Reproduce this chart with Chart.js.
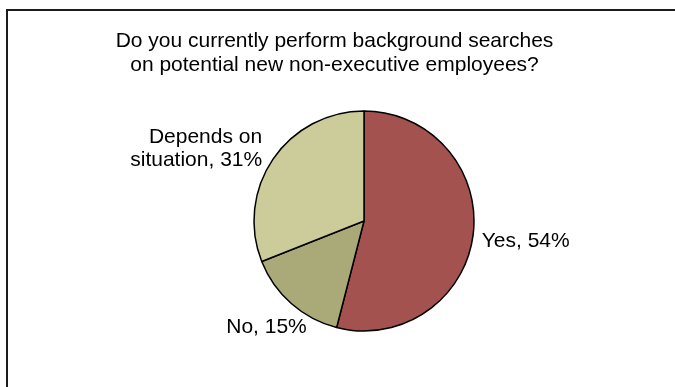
<!DOCTYPE html>
<html>
<head>
<meta charset="utf-8">
<script src="https://cdn.jsdelivr.net/npm/chart.js@4/dist/chart.umd.min.js"></script>
<style>
  html, body { margin: 0; padding: 0; background: #fff; overflow: hidden; }
  #wrap { position: relative; width: 675px; height: 387px; }
  #frame { position: absolute; left: 6px; top: 9px; width: 720px; height: 420px;
           border-top: 2px solid #1c1c1c; border-left: 2px solid #1c1c1c; }
  canvas { position: absolute; left: 0; top: 0; }
</style>
</head>
<body>
<div id="wrap">
  <div id="frame"></div>
  <canvas id="pie" width="675" height="387"></canvas>
</div>
<script>
// data
var titleLines = ['Do you currently perform background searches', 'on potential new non-executive employees?']
var categories = ['Yes', 'No', 'Depends on situation']
var shares = [54, 15, 31]
var labelLines = [['Yes, 54%'], ['No, 15%'], ['Depends on', 'situation, 31%']]
var sliceColors = ['#A3524F', '#AAAA78', '#CCCC9A']

var FONT = '21px "Liberation Sans", Arial, sans-serif'

/* titulo y etiquetas de datos al estilo excel */
var labelPlugin = {
    id: 'excelLabels',
    afterDraw: function(chart, args, opts){
        var ctx = chart.ctx
        ctx.save()
        ctx.font = FONT
        ctx.fillStyle = '#000'
        ctx.textBaseline = 'alphabetic'

        // titulo
        ctx.textAlign = 'center'
        titleLines.forEach(function(t, i){
            ctx.fillText(t, opts.titleX, opts.titleBase + i * 24)
        })

        // etiquetas fuera del pastel
        var meta = chart.getDatasetMeta(0)
        meta.data.forEach(function(arc, i){
            var p = arc.getProps(['x', 'y', 'startAngle', 'endAngle', 'outerRadius'], true)
            var mid = (p.startAngle + p.endAngle) / 2
            var dx = Math.cos(mid), dy = Math.sin(mid)
            var ax = p.x + (p.outerRadius + opts.gap) * dx
            var ay = p.y + (p.outerRadius + opts.gap) * dy
            var lines = labelLines[i]
            var w = 0
            lines.forEach(function(l){ w = Math.max(w, ctx.measureText(l).width) })
            var h = lines.length * opts.lineHeight
            var nudge = opts.nudge[i] || [0, 0]
            var left = ax + (dx - 1) / 2 * w + nudge[0]
            var cy = ay + dy * h / 2 + nudge[1]
            ctx.textAlign = dx < 0 ? 'right' : 'left'
            var tx = dx < 0 ? left + w : left
            lines.forEach(function(l, k){
                var lc = cy + (k - (lines.length - 1) / 2) * opts.lineHeight
                ctx.fillText(l, tx, lc + 7.5)
            })
        })
        ctx.restore()
    }
}

new Chart(document.getElementById('pie').getContext('2d'), {
    type: 'pie',
    data: {
        labels: categories,
        datasets: [{
            data: shares,
            backgroundColor: sliceColors,
            borderColor: '#000',
            borderWidth: 1.5
        }]
    },
    options: {
        responsive: false,
        animation: false,
        radius: 110,
        layout: { padding: { left: 53, right: 0, top: 55, bottom: 0 } },
        plugins: {
            legend: { display: false },
            tooltip: { enabled: false },
            title: { display: false },
            excelLabels: {
                titleX: 334.5,
                titleBase: 46.7,
                gap: 10,
                lineHeight: 23,
                nudge: [[-1, 2.5], [8.5, 6], [-14, 6]]
            }
        }
    },
    plugins: [labelPlugin]
})
</script>
</body>
</html>
